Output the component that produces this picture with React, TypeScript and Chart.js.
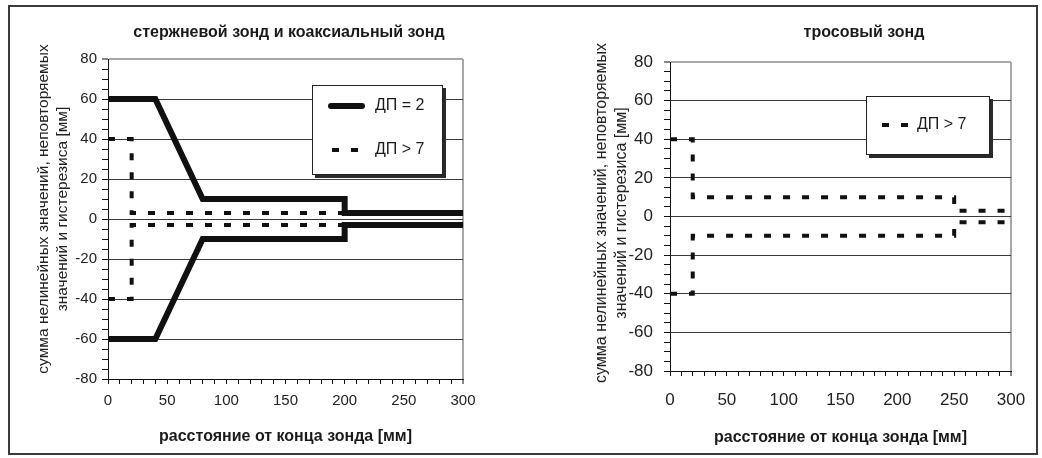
import React, { useEffect, useRef } from "react";
import { Chart, registerables } from "chart.js";

Chart.register(...registerables);

const FONT = "'Liberation Sans', Arial, Helvetica, sans-serif";

// ---------- data ----------
const rodTitle = "стержневой зонд и коаксиальный зонд";
const ropeTitle = "тросовый зонд";
const xAxisTitle = "расстояние от конца зонда [мм]";
const yAxisTitleLines = ["сумма нелинейных значений, неповторяемых", "значений и гистерезиса [мм]"];
const labelDP2 = "ДП = 2";
const labelDP7 = "ДП > 7";

const rodDistanceDP2 = [0, 40, 80, 200, 200, 300];
const rodUpperDP2 = [60, 60, 10, 10, 3, 3];
const rodLowerDP2 = [-60, -60, -10, -10, -3, -3];

const rodDistanceDP7 = [0, 20, 20, 300];
const rodUpperDP7 = [40, 40, 3, 3];
const rodLowerDP7 = [-40, -40, -3, -3];

const ropeDistanceDP7 = [0, 20, 20, 250, 250, 300];
const ropeUpperDP7 = [40, 40, 10, 10, 3, 3];
const ropeLowerDP7 = [-40, -40, -10, -10, -3, -3];

const xTickLabels = [0, 50, 100, 150, 200, 250, 300];
const yTickLabels = [-80, -60, -40, -20, 0, 20, 40, 60, 80];

// ---------- helpers ----------
const pts = (xs: number[], ys: number[]) => xs.map((x, i) => ({ x, y: ys[i] }));

const solidStyle = {
  borderColor: "#111",
  borderWidth: 6,
  borderCapStyle: "round" as const,
  borderJoinStyle: "miter" as const,
};
const dashStyle = {
  borderColor: "#111",
  borderWidth: 4,
  borderDash: [7, 12],
  borderCapStyle: "butt" as const,
  borderJoinStyle: "miter" as const,
};

const isLabel = (v: number, list: number[]) => {
  const r = Math.round(v);
  return Math.abs(v - r) < 1e-6 && list.includes(r);
};

const decorPlugin = {
  id: "decor",
  afterDraw(chart: any, _args: any, opts: any) {
    const ctx = chart.ctx;
    ctx.save();
    // chart title
    ctx.fillStyle = "#1a1a1a";
    ctx.font = `bold ${opts.titleSize}px ${FONT}`;
    ctx.textAlign = "center";
    ctx.textBaseline = "middle";
    ctx.fillText(opts.title, opts.titleX, opts.titleY);
    // y axis title (two rotated lines)
    ctx.font = `${opts.yTitleSize}px ${FONT}`;
    ctx.fillStyle = "#222";
    const lines: string[] = opts.yTitle;
    lines.forEach((line: string, i: number) => {
      ctx.save();
      ctx.translate(opts.yTitleX[i], opts.yTitleY);
      ctx.rotate(-Math.PI / 2);
      ctx.textAlign = "center";
      ctx.textBaseline = "middle";
      ctx.fillText(line, 0, 0);
      ctx.restore();
    });
    // legend box
    const b = opts.box;
    ctx.fillStyle = "#2a2a2a";
    ctx.fillRect(b.x + 3, b.y + 3, b.w, b.h);
    ctx.fillStyle = "#ffffff";
    ctx.fillRect(b.x, b.y, b.w, b.h);
    ctx.strokeStyle = "#222";
    ctx.lineWidth = 1;
    ctx.strokeRect(b.x + 0.5, b.y + 0.5, b.w - 1, b.h - 1);
    const items: any[] = opts.items;
    items.forEach((it: any) => {
      const ds = chart.data.datasets[it.datasetIndex];
      ctx.save();
      ctx.strokeStyle = ds.borderColor;
      ctx.lineWidth = ds.borderWidth;
      ctx.lineCap = ds.borderCapStyle || "butt";
      ctx.setLineDash(ds.borderDash || []);
      ctx.beginPath();
      ctx.moveTo(it.sx1, it.y);
      ctx.lineTo(it.sx2, it.y);
      ctx.stroke();
      ctx.restore();
      ctx.fillStyle = "#1a1a1a";
      ctx.font = `${opts.legendSize}px ${FONT}`;
      ctx.textAlign = "left";
      ctx.textBaseline = "middle";
      ctx.fillText(ds.label, it.tx, it.y);
    });
    ctx.restore();
  },
};

function makeConfig(p: any): any {
  return {
    type: "line",
    data: { datasets: p.datasets },
    plugins: [decorPlugin],
    options: {
      animation: false,
      responsive: false,
      devicePixelRatio: 1,
      parsing: true,
      layout: { padding: p.padding },
      elements: { point: { radius: 0, hoverRadius: 0 }, line: { tension: 0 } },
      plugins: {
        legend: { display: false },
        title: { display: false },
        tooltip: { enabled: false },
        decor: p.decor,
      },
      scales: {
        x: {
          type: "linear",
          min: 0,
          max: 300,
          afterFit: (s: any) => {
            s.height = p.xHeight;
          },
          ticks: {
            stepSize: 10,
            autoSkip: false,
            maxRotation: 0,
            padding: p.xPad,
            color: "#222",
            font: { family: FONT, size: p.tickSize },
            callback: (v: number) => (isLabel(v, xTickLabels) ? String(Math.round(v)) : ""),
          },
          grid: {
            color: (c: any) => (c.tick && Math.round(c.tick.value) === 300 ? "#a8a8a8" : "rgba(0,0,0,0)"),
            lineWidth: (c: any) => (c.tick && Math.round(c.tick.value) === 300 ? 2 : 1),
            tickColor: "#111",
            tickWidth: 1,
            tickLength: 5,
          },
          border: { color: "#111", width: 1 },
          title: {
            display: true,
            text: xAxisTitle,
            color: "#1a1a1a",
            font: { family: FONT, size: 16, weight: "bold" },
            padding: { top: 0, bottom: p.xTitlePad },
          },
        },
        y: {
          type: "linear",
          min: -80,
          max: 80,
          afterFit: (s: any) => {
            s.width = p.yWidth;
          },
          ticks: {
            stepSize: 5,
            autoSkip: false,
            padding: p.yPad,
            color: "#222",
            font: { family: FONT, size: p.tickSize },
            callback: (v: number) => (isLabel(v, yTickLabels) ? String(Math.round(v)) : ""),
          },
          grid: {
            color: (c: any) => {
              if (!c.tick) return "rgba(0,0,0,0)";
              const v = Math.round(c.tick.value);
              if (v === 80) return "#a8a8a8";
              return isLabel(c.tick.value, yTickLabels) ? "#3a3a3a" : "rgba(0,0,0,0)";
            },
            lineWidth: (c: any) => (c.tick && Math.round(c.tick.value) === 80 ? 2 : 1),
            tickColor: "#111",
            tickWidth: 1,
            tickLength: 6,
          },
          border: { color: "#111", width: 1 },
        },
      },
    },
  };
}

const leftConfig = () =>
  makeConfig({
    datasets: [
      { label: labelDP7, data: pts(rodDistanceDP7, rodUpperDP7), ...dashStyle },
      { label: labelDP7, data: pts(rodDistanceDP7, rodLowerDP7), ...dashStyle },
      { label: labelDP2, data: pts(rodDistanceDP2, rodUpperDP2), ...solidStyle },
      { label: labelDP2, data: pts(rodDistanceDP2, rodLowerDP2), ...solidStyle },
    ],
    padding: { top: 59, right: 55, left: 0, bottom: 0 },
    xHeight: 79,
    yWidth: 108,
    xPad: 8,
    yPad: 5,
    tickSize: 15,
    xTitlePad: 11.4,
    decor: {
      title: rodTitle,
      titleSize: 16,
      titleX: 289,
      titleY: 33,
      yTitle: yAxisTitleLines,
      yTitleSize: 15.5,
      yTitleX: [44, 63],
      yTitleY: 209,
      legendSize: 16,
      box: { x: 312, y: 85, w: 131, h: 90 },
      items: [
        { datasetIndex: 2, sx1: 331, sx2: 362, y: 106, tx: 375 },
        { datasetIndex: 0, sx1: 332, sx2: 358, y: 150, tx: 375 },
      ],
    },
  });

const rightConfig = () =>
  makeConfig({
    datasets: [
      { label: labelDP7, data: pts(ropeDistanceDP7, ropeUpperDP7), ...dashStyle },
      { label: labelDP7, data: pts(ropeDistanceDP7, ropeLowerDP7), ...dashStyle },
    ],
    padding: { top: 62, right: 31, left: 0, bottom: 0 },
    xHeight: 87,
    yWidth: 152,
    xPad: 13.8,
    yPad: 11,
    tickSize: 17,
    xTitlePad: 10.4,
    decor: {
      title: ropeTitle,
      titleSize: 16,
      titleX: 346,
      titleY: 33,
      yTitle: yAxisTitleLines,
      yTitleSize: 16,
      yTitleX: [84, 104],
      yTitleY: 213,
      legendSize: 16,
      box: { x: 348, y: 96, w: 124, h: 59 },
      items: [{ datasetIndex: 0, sx1: 364, sx2: 390, y: 125, tx: 399 }],
    },
  });

function ChartCanvas({ makeCfg, left, width }: { makeCfg: () => any; left: number; width: number }) {
  const ref = useRef<HTMLCanvasElement>(null);
  useEffect(() => {
    const chart = new Chart(ref.current as HTMLCanvasElement, makeCfg());
    return () => chart.destroy();
  }, []);
  return (
    <canvas
      ref={ref}
      width={width}
      height={458}
      style={{ position: "absolute", left, top: 0, width, height: 458, display: "block" }}
    />
  );
}

export default function App() {
  return (
    <div
      style={{
        position: "fixed",
        left: 0,
        top: 0,
        width: 1042,
        height: 458,
        background: "#ffffff",
        overflow: "hidden",
      }}
    >
      <div
        style={{
          position: "absolute",
          left: 8,
          top: 5,
          width: 1030,
          height: 450,
          border: "2px solid #3a3a3a",
          boxSizing: "border-box",
        }}
      />
      <ChartCanvas makeCfg={leftConfig} left={0} width={518} />
      <ChartCanvas makeCfg={rightConfig} left={518} width={524} />
    </div>
  );
}
